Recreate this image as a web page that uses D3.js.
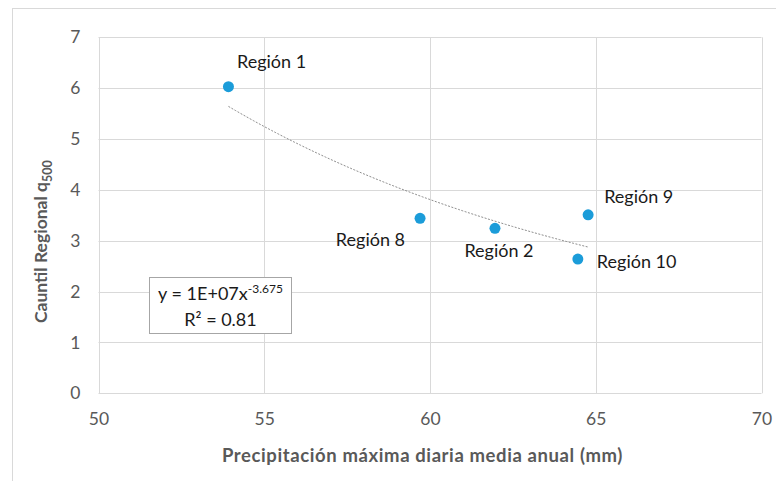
<!DOCTYPE html>
<html>
<head>
<meta charset="utf-8">
<script src="https://cdn.jsdelivr.net/npm/d3@7"></script>
<style>
  html, body { margin: 0; padding: 0; background: #fff; }
  svg { display: block; }
  text { font-family: Lato, "Open Sans", sans-serif; }
</style>
</head>
<body>
<svg id="chart" width="776" height="481"></svg>
<script>
// Regional data: mean annual maximum daily precipitation vs. regional quantile q500
const regions = ["Región 1", "Región 8", "Región 2", "Región 9", "Región 10"];
const precip  = [53.92, 59.70, 61.96, 64.77, 64.46];
const q500    = [6.03, 3.44, 3.245, 3.51, 2.64];

const xTicks = [50, 55, 60, 65, 70];
const yTicks = [0, 1, 2, 3, 4, 5, 6, 7];

// power trendline as reported: y = 1E+07 x^-3.675, R² = 0.81
const trendExp = -3.675;
const trendR2 = 0.81;

const svg = d3.select("#chart");
const W = 776, H = 481;
const m = { left: 98.5, right: 761.5, top: 37.3, bottom: 393.3 };
const FONT = "Lato, 'Open Sans', sans-serif";

// chart frame
svg.append("rect")
  .attr("x", 12.5).attr("y", 8.5)
  .attr("width", W + 10).attr("height", H + 10)
  .attr("fill", "none").attr("stroke", "#d9d9d9");

const x = d3.scaleLinear().domain([50, 70]).range([m.left, m.right]);
const y = d3.scaleLinear().domain([0, 7]).range([m.bottom, m.top]);

// gridlines
const grid = svg.append("g").attr("stroke", "#d9d9d9").attr("stroke-width", 1);
grid.selectAll("line.h").data(yTicks).join("line")
  .attr("x1", m.left).attr("x2", m.right)
  .attr("y1", d => Math.round(y(d)) + 0.5).attr("y2", d => Math.round(y(d)) + 0.5);
grid.selectAll("line.v").data(xTicks).join("line")
  .attr("y1", m.top).attr("y2", m.bottom)
  .attr("x1", d => Math.round(x(d)) + 0.5).attr("x2", d => Math.round(x(d)) + 0.5);

// axes (labels only)
const yAxis = svg.append("g")
  .attr("transform", `translate(${m.left},0)`)
  .call(d3.axisLeft(y).tickValues(yTicks).tickFormat(d3.format("d")).tickSize(0).tickPadding(18));
const xAxis = svg.append("g")
  .attr("transform", `translate(0,${m.bottom})`)
  .call(d3.axisBottom(x).tickValues(xTicks).tickFormat(d3.format("d")).tickSize(0).tickPadding(19));
[yAxis, xAxis].forEach(a => {
  a.select(".domain").remove();
  a.selectAll("text")
    .attr("fill", "#595959")
    .style("font-family", FONT)
    .style("font-size", "17.5px");
});

// trendline: exponent as reported, coefficient fitted in log-log space
const lx = precip.map(Math.log), ly = q500.map(Math.log);
const coef = Math.exp(d3.mean(ly) - trendExp * d3.mean(lx));
const [x0, x1] = d3.extent(precip);
const trend = d3.range(0, 101).map(i => {
  const xv = x0 + (x1 - x0) * i / 100;
  return [xv, coef * Math.pow(xv, trendExp)];
});
svg.append("path")
  .datum(trend)
  .attr("fill", "none")
  .attr("stroke", "#808080")
  .attr("stroke-width", 0.9)
  .attr("stroke-dasharray", "2,1.5")
  .attr("d", d3.line().x(d => x(d[0])).y(d => y(d[1])));

// points
svg.selectAll("circle.pt").data(precip).join("circle")
  .attr("cx", d => x(d))
  .attr("cy", (d, i) => y(q500[i]))
  .attr("r", 5.5)
  .attr("fill", "#1b9cd9");

// point labels (offsets relative to each marker, baseline-aligned)
const labelOffsets = [
  { dx: 8.5, dy: -18.5, anchor: "start" },
  { dx: -15, dy: 28, anchor: "end" },
  { dx: 4, dy: 29, anchor: "middle" },
  { dx: 16, dy: -12, anchor: "start" },
  { dx: 19, dy: 8.5, anchor: "start" }
];
svg.selectAll("text.lbl").data(regions).join("text")
  .attr("x", (d, i) => x(precip[i]) + labelOffsets[i].dx)
  .attr("y", (d, i) => y(q500[i]) + labelOffsets[i].dy)
  .attr("text-anchor", (d, i) => labelOffsets[i].anchor)
  .attr("fill", "#1a1a1a")
  .style("font-size", "18px")
  .text(d => d);

// equation box
svg.append("rect")
  .attr("x", 149.5).attr("y", 277.5).attr("width", 142).attr("height", 56)
  .attr("fill", "#fff").attr("stroke", "#a6a6a6");
const eq = svg.append("text")
  .attr("x", 220.5).attr("y", 300).attr("text-anchor", "middle")
  .attr("fill", "#1a1a1a").style("font-size", "18px");
eq.append("tspan").text("y = 1E+07x");
eq.append("tspan").attr("dy", -7).style("font-size", "12px").text(trendExp.toFixed(3));
svg.append("text")
  .attr("x", 220.5).attr("y", 326).attr("text-anchor", "middle")
  .attr("fill", "#1a1a1a").style("font-size", "18px")
  .text(`R² = ${trendR2}`);

// axis titles
svg.append("text")
  .attr("x", 422.5).attr("y", 462)
  .attr("text-anchor", "middle")
  .attr("fill", "#595959").style("font-size", "18.5px").style("font-weight", "bold")
  .style("letter-spacing", "0.6px")
  .text("Precipitación máxima diaria media anual (mm)");

const yt = svg.append("text")
  .attr("transform", "translate(46.5,323) rotate(-90)")
  .attr("text-anchor", "start")
  .attr("fill", "#595959").style("font-size", "17.5px").style("font-weight", "bold");
yt.append("tspan").text("Cauntil Regional q");
yt.append("tspan").attr("dy", 5).style("font-size", "12.5px").text("500");
</script>
</body>
</html>
